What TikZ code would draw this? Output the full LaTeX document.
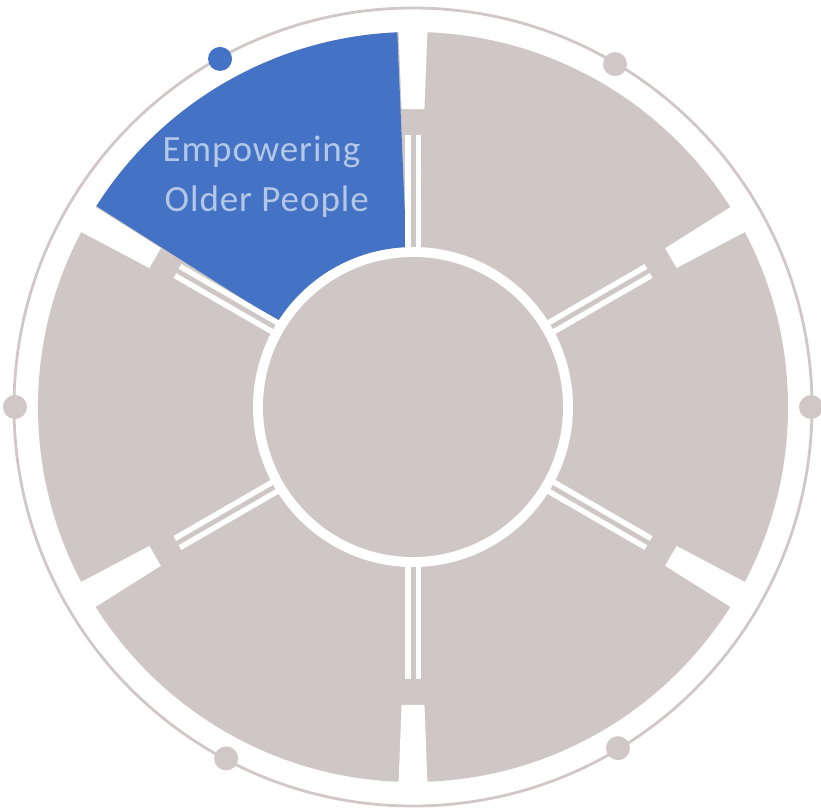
\documentclass[tikz,border=0pt]{standalone}
\usepackage{fontspec}
\newfontfamily\labfont[LetterSpace=2.5]{Carlito}
\definecolor{secgray}{RGB}{207,199,198}
\definecolor{ringgray}{RGB}{208,200,200}
\definecolor{segblue}{RGB}{68,114,196}
\definecolor{txtblue}{RGB}{180,199,231}
\begin{document}
\begin{tikzpicture}[x=1pt,y=1pt,
  dotnode/.style={circle,fill=ringgray,inner sep=0pt,minimum size=24pt},
  bluedot/.style={dotnode,fill=segblue},
  lab/.style={inner sep=0pt,anchor=base west,text=txtblue,font=\labfont\fontsize{37}{44}\selectfont},
  gapfill/.style={fill=white}]
\useasboundingbox (-413,-402) rectangle (408,407);
% outer thin ring
\draw[ringgray,line width=2.8pt] (0,0) circle (399);
% sectors (gray annulus) and hub
\fill[secgray] (0,0) circle (375);
\fill[white] (0,0) circle (160);
\fill[secgray] (0,0) circle (150);
% highlighted sector
\fill[segblue] (92.4:375) arc[start angle=92.4,end angle=147.6,radius=375]
  -- (147.6:160) arc[start angle=147.6,end angle=92.4,radius=160] -- cycle;
% separators
\foreach \a in {30,90,150,210,270,330}{
  \fill[gapfill] (\a-2.2:298) -- (\a-2.2:386) -- (\a+2.2:386) -- (\a+2.2:298) -- cycle;
  \begin{scope}[rotate=\a]
    \fill[gapfill] (156,-8) rectangle (272,-2.5);
    \fill[gapfill] (156,2.5) rectangle (272,8);
  \end{scope}
}
% dots on the ring
\node[bluedot] (d120) at (119:398) {};
\node[dotnode] (d60) at (59.5:398) {};
\node[dotnode] (d0) at (0:398) {};
\node[dotnode] (d180) at (180:398) {};
\node[dotnode] (d240) at (242:398) {};
\node[dotnode] (d300) at (301:398) {};
% label
\node[lab] (t1) at (-250.5,245.3) {Empowering};
\node[lab] (t2) at (-248.5,196) {Older People};
\end{tikzpicture}
\end{document}
